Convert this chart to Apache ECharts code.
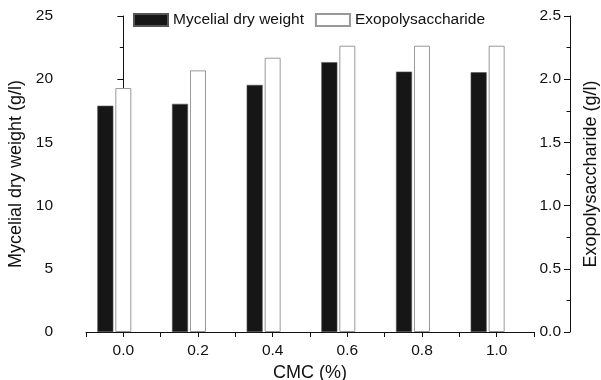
<!DOCTYPE html>
<html><head><meta charset="utf-8">
<script src="https://cdn.jsdelivr.net/npm/echarts@6/dist/echarts.min.js"></script>
<style>html,body{margin:0;padding:0;background:#fff}#c{width:601px;height:380px}</style>
</head><body><div id="c"></div>
<script>
const categories = ['0.0', '0.2', '0.4', '0.6', '0.8', '1.0'];
const myceliaDryWeight = [17.9, 18.05, 19.55, 21.35, 20.6, 20.55];
const exopolysaccharide = [1.93, 2.07, 2.17, 2.265, 2.265, 2.265];
const seriesNames = ['Mycelial dry weight', 'Exopolysaccharide'];

const FONT = "'Liberation Sans', Arial, Helvetica, sans-serif";
const TICK_FS = 15.5, TITLE_FS = 18;
const chart = echarts.init(document.getElementById('c'), null, {renderer: 'canvas'});
chart.setOption({
  animation: false,
  backgroundColor: '#fff',
  textStyle: {fontFamily: FONT, color: '#111'},
  legend: {
    data: seriesNames.map(n => ({name: n, icon: 'rect'})),
    left: 133, top: 12, padding: 0,
    itemWidth: 34, itemHeight: 12, itemGap: 11,
    textStyle: {fontFamily: FONT, fontSize: 15.5, color: '#111'}
  },
  grid: {left: 86, right: 67, top: 16, bottom: 48, containLabel: false, outerBoundsMode: 'none'},
  xAxis: [
    {type: 'category', data: categories, show: false, gridIndex: 0},
    {
      type: 'value', gridIndex: 0, position: 'bottom', offset: 1,
      min: -0.1, max: 1.1, interval: 0.1,
      name: 'CMC (%)', nameLocation: 'middle', nameGap: 27,
      nameTextStyle: {fontFamily: FONT, fontSize: TITLE_FS, color: '#111'},
      axisLine: {show: true, lineStyle: {color: '#111', width: 1}},
      axisTick: {show: true, length: 5, lineStyle: {color: '#111'}},
      axisLabel: {
        fontFamily: FONT, fontSize: TICK_FS, color: '#111', margin: 10,
        formatter: v => (Math.round(v * 10) % 2 === 0 ? (Math.round(v * 10) / 10).toFixed(1) : '')
      },
      splitLine: {show: false}
    }
  ],
  yAxis: [
    {
      type: 'value', position: 'left', offset: 23,
      min: 0, max: 25, interval: 5,
      name: 'Mycelial dry weight (g/l)', nameLocation: 'middle', nameGap: 36,
      nameTextStyle: {fontFamily: FONT, fontSize: TITLE_FS, color: '#111'},
      axisLine: {show: true, lineStyle: {color: '#111', width: 1}},
      axisTick: {show: true, length: 6, lineStyle: {color: '#111'}},
      minorTick: {show: true, splitNumber: 2, length: 3.5, lineStyle: {color: '#111'}},
      axisLabel: {fontFamily: FONT, fontSize: TICK_FS, color: '#111', margin: 10},
      splitLine: {show: false}
    },
    {
      type: 'value', position: 'right', offset: 36,
      min: 0, max: 2.5, interval: 0.5,
      name: 'Exopolysaccharide (g/l)', nameLocation: 'middle', nameGap: 12,
      nameTextStyle: {fontFamily: FONT, fontSize: TITLE_FS, color: '#111'},
      axisLine: {show: true, lineStyle: {color: '#111', width: 1}},
      axisTick: {show: true, inside: true, length: 6, lineStyle: {color: '#111'}},
      minorTick: {show: true, splitNumber: 2, length: 3.5, lineStyle: {color: '#111'}},
      axisLabel: {inside: true, fontFamily: FONT, fontSize: TICK_FS, color: '#111', margin: 9,
        formatter: v => v.toFixed(1)},
      splitLine: {show: false}
    }
  ],
  series: [
    {
      name: seriesNames[0], type: 'bar', xAxisIndex: 0, yAxisIndex: 0,
      data: myceliaDryWeight, barWidth: 16, barGap: '12.5%',
      itemStyle: {color: '#161616', borderColor: '#555', borderWidth: 0.6}
    },
    {
      name: seriesNames[1], type: 'bar', xAxisIndex: 0, yAxisIndex: 1,
      data: exopolysaccharide, barWidth: 16, barGap: '12.5%',
      itemStyle: {color: '#fff', borderColor: '#999', borderWidth: 1}
    },
    {
      name: '_spacer', type: 'bar', xAxisIndex: 0, yAxisIndex: 0,
      data: [], barWidth: 16, barGap: '12.5%', silent: true
    }
  ]
});
</script></body></html>
